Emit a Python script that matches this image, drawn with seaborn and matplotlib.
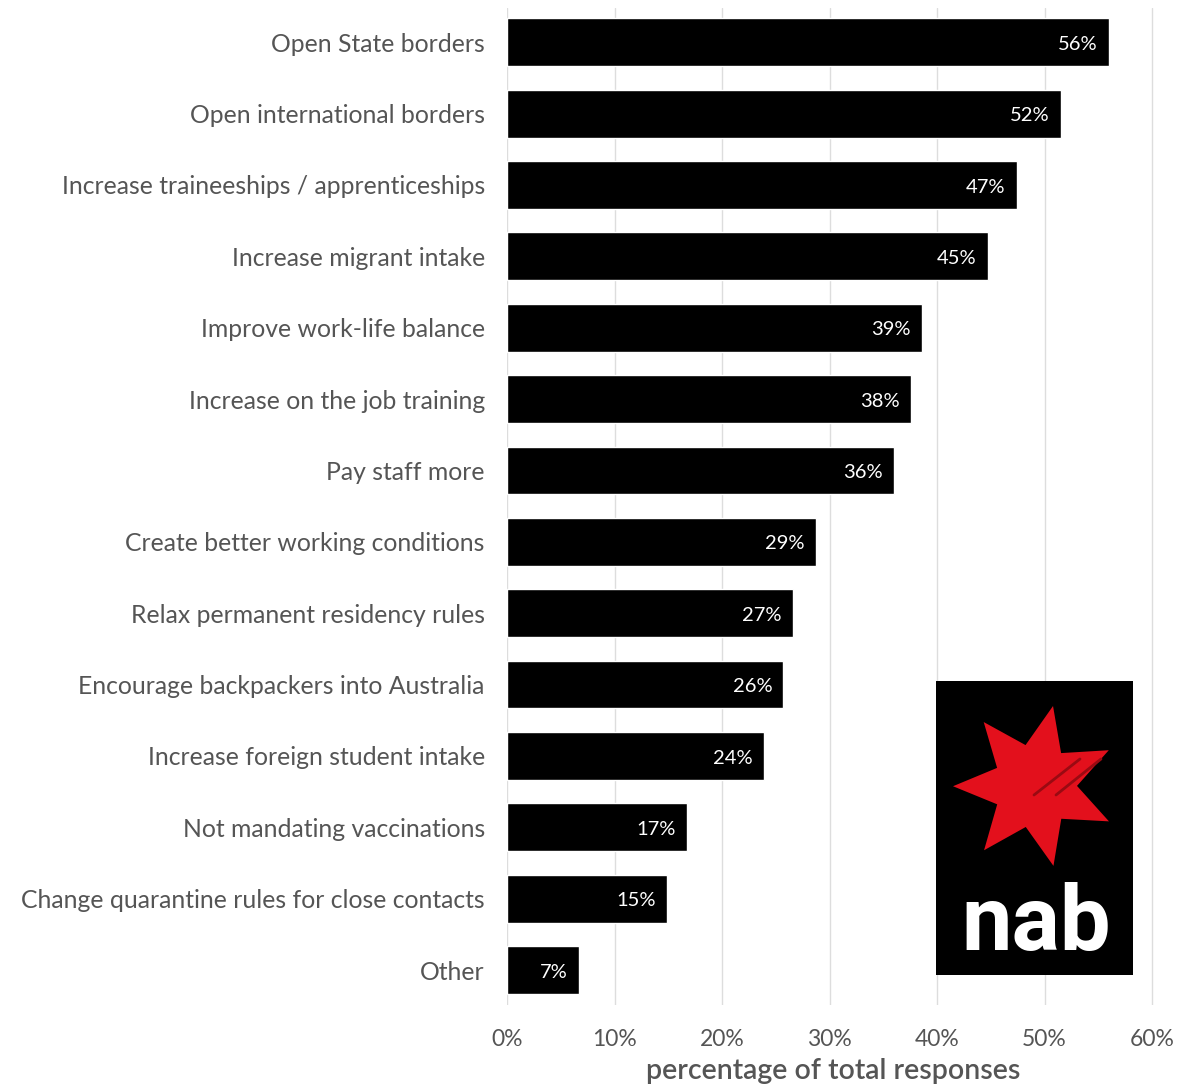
import numpy as np
import pandas as pd
import matplotlib
matplotlib.use("Agg")
import matplotlib.pyplot as plt
from matplotlib.patches import Polygon, Rectangle
import seaborn as sns

# Survey answers: measures that would ease labour shortages
categories = [
    "Open State borders",
    "Open international borders",
    "Increase traineeships / apprenticeships",
    "Increase migrant intake",
    "Improve work-life balance",
    "Increase on the job training",
    "Pay staff more",
    "Create better working conditions",
    "Relax permanent residency rules",
    "Encourage backpackers into Australia",
    "Increase foreign student intake",
    "Not mandating vaccinations",
    "Change quarantine rules for close contacts",
    "Other",
]
shares = [56.0, 51.5, 47.4, 44.7, 38.6, 37.6, 36.0, 28.7, 26.6, 25.7, 23.9, 16.7, 14.9, 6.7]
x_ticks = [0, 10, 20, 30, 40, 50, 60]
x_tick_labels = ["0%", "10%", "20%", "30%", "40%", "50%", "60%"]

df = pd.DataFrame({"measure": categories, "share": shares})

sns.set_theme(style="white")
plt.rcParams["font.family"] = ["Lato", "DejaVu Sans"]

W, H = 1178, 1084
fig = plt.figure(figsize=(W / 100, H / 100), dpi=100)
ax = fig.add_axes([507 / W, 1 - 1005 / H, 653 / W, 997 / H])

sns.barplot(data=df, x="share", y="measure", orient="h", color="black",
            saturation=1, width=0.67, ax=ax)

ax.set_xlim(0, 60.74)
ax.set_ylim(13.49, -0.48)
ax.set_xticks(x_ticks)
ax.set_xticklabels(x_tick_labels, fontsize=16.5, color="#555555")
ax.tick_params(axis="both", length=0)
ax.tick_params(axis="x", pad=17)
ax.tick_params(axis="y", pad=16)
for lbl in ax.get_yticklabels():
    lbl.set_fontsize(17.8)
    lbl.set_color("#555555")
ax.set_ylabel("")
ax.set_xlabel("percentage of total responses", fontsize=20.5, color="#555555",
              fontweight="semibold", labelpad=6)
ax.grid(axis="x", color="#dddddd", linewidth=1)
ax.set_axisbelow(True)
for s in ax.spines.values():
    s.set_visible(False)

# Value labels inside the bar ends
for i, v in enumerate(shares):
    ax.annotate(f"{v:.0f}%", xy=(v, i), xytext=(-8, -1.5), textcoords="offset points",
                ha="right", va="center", color="white", fontsize=14.5)

# Bank logo panel
lx0, ly0, lw, lh = 936, 681, 197, 294
lax = fig.add_axes([lx0 / W, 1 - (ly0 + lh) / H, lw / W, lh / H])
lax.set_xlim(0, lw)
lax.set_ylim(lh, 0)
lax.axis("off")
lax.add_patch(Rectangle((0, 0), lw, lh, color="black", zorder=0))

cx, cy = 99, 105
r_out, r_in = 82, 42
pts = []
for k in range(7):
    a_out = np.deg2rad(77.3 + k * 360 / 7)
    a_in = np.deg2rad(77.3 + k * 360 / 7 + 180 / 7)
    pts.append((cx + r_out * np.cos(a_out), cy - r_out * np.sin(a_out)))
    pts.append((cx + r_in * np.cos(a_in), cy - r_in * np.sin(a_in)))
lax.add_patch(Polygon(pts, closed=True, facecolor="#e3101c", edgecolor="none", zorder=1))
lax.plot([144, 98], [78, 114], color="#9a0a12", lw=2, solid_capstyle="round", zorder=2)
lax.plot([165, 120], [78, 114], color="#9a0a12", lw=2, solid_capstyle="round", zorder=2)
lax.text(100, 269, "nab", ha="center", va="baseline", color="white",
         fontsize=65, fontweight="bold", family=["Roboto", "DejaVu Sans"],
         zorder=3)

fig.savefig("out.png", dpi=100)
